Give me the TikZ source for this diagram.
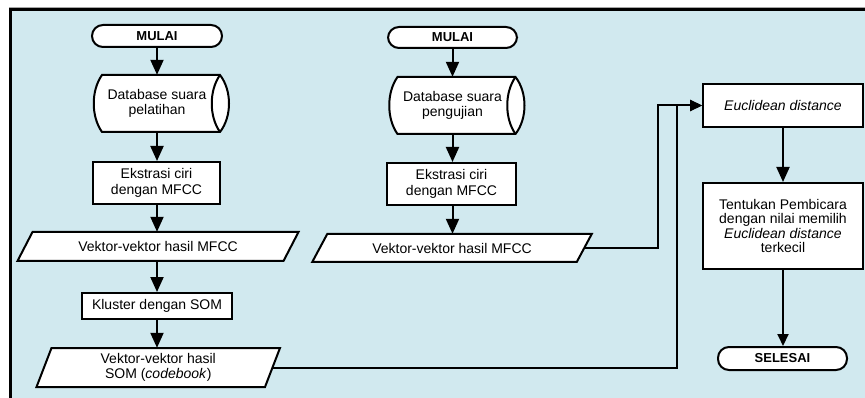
\documentclass[tikz,border=0pt]{standalone}
\usepackage{fontspec}
\setmainfont{Liberation Sans}
\usetikzlibrary{arrows.meta,calc}
\pgfdeclarelayer{bgl}
\pgfdeclarelayer{shp}
\pgfsetlayers{bgl,shp,main}
\definecolor{bgblue}{RGB}{209,233,239}
\tikzset{
  txt/.style={font=\fontsize{14}{15.5}\selectfont, align=center, inner sep=0pt},
  rectbox/.style={txt, draw, fill=white, line width=2pt},
  termbox/.style={draw, fill=white, line width=2pt, inner sep=0pt,
    rounded corners=11pt, font=\fontsize{13}{15}\selectfont\bfseries},
  shapeline/.style={draw, fill=white, line width=2pt},
  flow/.style={line width=2pt, -{Triangle[length=15pt,width=13pt]}},
  flowh/.style={line width=2pt, -{Triangle[length=12pt,width=11pt]}},
}
\newcommand\dbpath[1]{%
  \draw[shapeline] ($(#1)+(-55,-28.5)$) -- ($(#1)+(63,-28.5)$)
    .. controls ($(#1)+(75,-13)$) and ($(#1)+(75,13)$) .. ($(#1)+(63,28.5)$)
    -- ($(#1)+(-55,28.5)$)
    .. controls ($(#1)+(-66,13)$) and ($(#1)+(-66,-13)$) .. ($(#1)+(-55,-28.5)$) -- cycle;
  \draw[line width=2pt] ($(#1)+(63,-28.5)$)
    .. controls ($(#1)+(52,-13)$) and ($(#1)+(52,13)$) .. ($(#1)+(63,28.5)$);
}
% node, half width, half height
\newcommand\parpath[3]{%
  \draw[shapeline] ($(#1)+(-#2+7.5,-#3)$) -- ($(#1)+(#2+7.5,-#3)$)
    -- ($(#1)+(#2-7.5,#3)$) -- ($(#1)+(-#2-7.5,#3)$) -- cycle;
}
\begin{document}
\begin{tikzpicture}[x=1pt,y=-1pt]
\useasboundingbox (0,0) rectangle (865,398);
\begin{pgfonlayer}{bgl}
  \fill[white] (0,0) rectangle (865,398);
  \fill[bgblue] (10.5,9.5) rectangle (865,398);
  \draw[gray!70, line width=1pt] (9,7.5) -- (865,7.5);
  \draw[line width=3pt] (10.5,398) -- (10.5,9.5) -- (865,9.5);
\end{pgfonlayer}

% left column
\node[termbox, minimum width=130pt, minimum height=22pt] (m1) at (157,36) {MULAI};
\node[txt, minimum width=110pt, minimum height=57pt] (db1) at (157,103.5) {Database suara\\pelatihan};
\node[rectbox, minimum width=127pt, minimum height=42pt] (ek1) at (156.5,183) {Ekstrasi ciri\\dengan MFCC};
\node[txt, minimum width=266pt, minimum height=29pt] (v1) at (158,246.5) {Vektor-vektor hasil MFCC};
\node[rectbox, minimum width=150pt, minimum height=26pt] (kl) at (157,306) {Kluster dengan SOM};
\node[txt, minimum width=228.5pt, minimum height=39pt] (v2) at (158.25,367.5) {Vektor-vektor hasil\\SOM (\textit{codebook})};

% middle column
\node[termbox, minimum width=129pt, minimum height=21pt] (m2) at (452.5,37.5) {MULAI};
\node[txt, minimum width=110pt, minimum height=57pt] (db2) at (452.5,105.5) {Database suara\\pengujian};
\node[rectbox, minimum width=129pt, minimum height=42pt] (ek2) at (451.5,184) {Ekstrasi ciri\\dengan MFCC};
\node[txt, minimum width=264.5pt, minimum height=28pt] (v3) at (452,248) {Vektor-vektor hasil MFCC};

% right column
\node[rectbox, minimum width=160pt, minimum height=43pt] (eu) at (783,105.5) {\textit{Euclidean distance}};
\node[rectbox, minimum width=160pt, minimum height=86pt, font=\fontsize{14}{14.5}\selectfont] (tk) at (783,226)
  {Tentukan Pembicara\\dengan nilai memilih\\\textit{Euclidean distance}\\terkecil};
\node[termbox, minimum width=129pt, minimum height=23pt] (se) at (782.5,358.5) {SELESAI};

\coordinate (j1) at (658,105.5);
\coordinate (j2) at (677,105.5);

\begin{pgfonlayer}{shp}
  \dbpath{db1}
  \dbpath{db2}
  \parpath{v1}{133}{14.5}
  \parpath{v2}{114.25}{19.5}
  \parpath{v3}{132.25}{14}
\end{pgfonlayer}

% connectors
\draw[flow] (m1.south) -- (m1.south |- db1.north);
\draw[flow] (db1.south) -- (db1.south |- ek1.north);
\draw[flow] (db1.south |- ek1.south) -- (db1.south |- v1.north);
\draw[flow] (db1.south |- v1.south) -- (db1.south |- kl.north);
\draw[flow] (db1.south |- kl.south) -- (db1.south |- v2.north);

\draw[flow] (m2.south) -- (m2.south |- db2.north);
\draw[flow] (db2.south) -- (db2.south |- ek2.north);
\draw[flow] (db2.south |- ek2.south) -- (db2.south |- v3.north);

\draw[flowh] (v3.east) -| (j1) -- (eu.west);
\draw[flowh] (v2.east) -| (j2) -- (eu.west);
\draw[flow] (eu.south) -- (tk.north);
\draw[flowh] (tk.south) -- (tk.south |- se.north);
\end{tikzpicture}
\end{document}
